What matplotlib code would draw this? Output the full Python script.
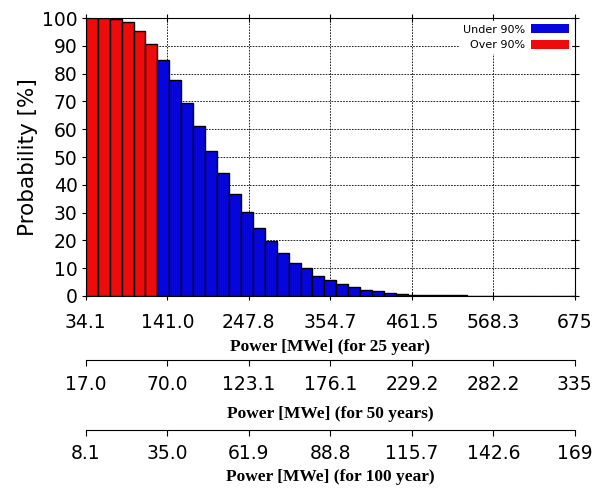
import matplotlib
matplotlib.use("Agg")
import matplotlib.pyplot as plt
import numpy as np

# Exceedance probability per power bin (25 year case)
over_90 = [100.0, 100.0, 99.7, 98.5, 95.5, 90.8]
under_90 = [84.8, 77.6, 69.6, 61.0, 52.2, 44.4, 36.8, 30.2, 24.3, 19.9, 15.3, 12.0,
            10.0, 7.3, 5.7, 4.2, 3.1, 2.3, 1.7, 1.2, 0.8, 0.5, 0.4,
            0.3, 0.2, 0.2, 0.15, 0.1, 0.1, 0.1, 0.08, 0.06, 0.05, 0.05, 0.04]

p_min, p_max = 34.1, 675.1
labels_25 = ["34.1", "141.0", "247.8", "354.7", "461.5", "568.3", "675"]
labels_50 = ["17.0", "70.0", "123.1", "176.1", "229.2", "282.2", "335"]
labels_100 = ["8.1", "35.0", "61.9", "88.8", "115.7", "142.6", "169"]
yticks = list(range(0, 101, 10))

RED = "#ee0b0b"
BLUE = "#0505dc"
TICK_FS = 13.5
label_font = dict(family="Liberation Serif", weight="bold", size=12.5)

fig = plt.figure(figsize=(5.92, 4.90), dpi=100)
ax = fig.add_axes([0.145, 0.396, 0.826, 0.567])

n = len(over_90) + len(under_90)
edges = np.linspace(p_min, p_max, n + 1)
width = edges[1] - edges[0]
ax.bar(edges[:len(over_90)], over_90, width, align="edge", color=RED,
       edgecolor="black", linewidth=1.0, zorder=3, label="Over 90%")
ax.bar(edges[len(over_90):-1], under_90, width, align="edge", color=BLUE,
       edgecolor="black", linewidth=1.0, zorder=3, label="Under 90%")

ticks = np.linspace(p_min, p_max, len(labels_25))
ax.set_xlim(p_min, p_max)
ax.set_ylim(0, 100)
ax.set_xticks(ticks)
ax.set_xticklabels(labels_25)
ax.set_yticks(yticks)
ax.tick_params(axis="both", labelsize=TICK_FS, direction="inout", length=6,
               width=0.8, top=True, right=True)
ax.tick_params(axis="x", pad=9)
ax.tick_params(axis="y", pad=3)
ax.grid(True, color="black", linestyle=(0, (2, 1.5)), linewidth=0.6, zorder=0)
ax.set_axisbelow(True)
ax.set_ylabel("Probability [%]", fontsize=15.5, labelpad=3)
ax.set_xlabel("Power [MWe] (for 25 year)", fontdict=label_font, labelpad=5)

h, l = ax.get_legend_handles_labels()
leg = ax.legend(h[::-1], l[::-1], loc="upper right", fontsize=8, frameon=True,
                framealpha=1.0, edgecolor="white", markerfirst=False,
                handlelength=3.4, handleheight=0.9, borderpad=0.25,
                labelspacing=0.45, handletextpad=0.5, borderaxespad=0.3)
for patch in leg.get_patches():
    patch.set_edgecolor("none")

# extra axes for the 50 and 100 year power scales
for ypos, labels, title, pad, lpad in [
        (0.265, labels_50, "Power [MWe] (for 50 years)", 7, 8),
        (0.122, labels_100, "Power [MWe] (for 100 year)", 6, 4)]:
    sub = fig.add_axes([0.145, ypos, 0.826, 0.0001])
    sub.patch.set_visible(False)
    for side in ["top", "left", "right"]:
        sub.spines[side].set_visible(False)
    sub.spines["bottom"].set_linewidth(0.8)
    sub.set_yticks([])
    sub.set_xlim(0, 1)
    sub.set_xticks(np.linspace(0, 1, len(labels)))
    sub.set_xticklabels(labels)
    sub.tick_params(axis="x", labelsize=TICK_FS, direction="out", length=4,
                    width=0.8, pad=pad)
    sub.set_xlabel(title, fontdict=label_font, labelpad=lpad)

fig.savefig("out.png", dpi=100, facecolor="white")
